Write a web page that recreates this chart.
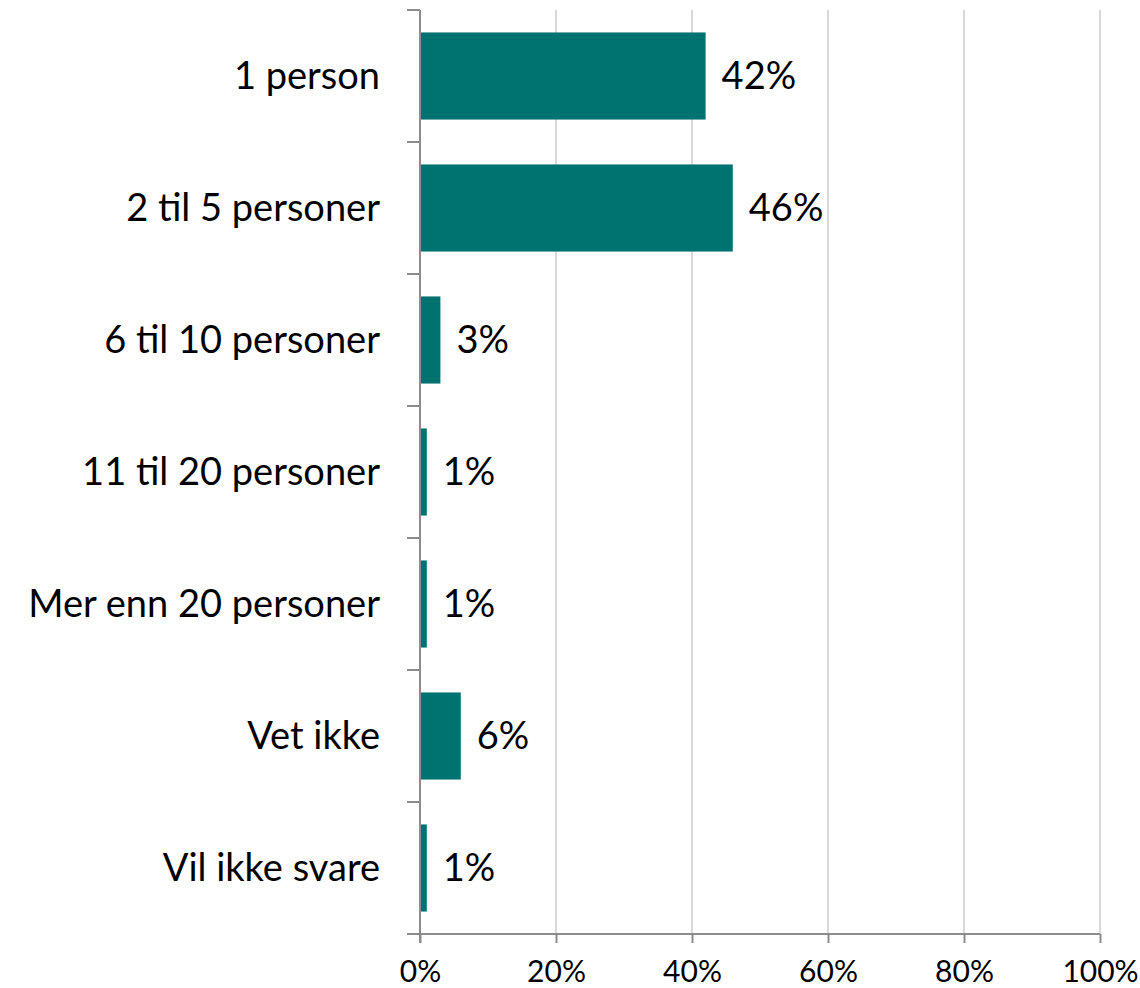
<!DOCTYPE html>
<html>
<head>
<meta charset="utf-8">
<script src="https://cdn.jsdelivr.net/npm/d3@7"></script>
<style>
  body { margin: 0; background: #fff; }
  text { font-family: Lato, "Open Sans", sans-serif; fill: #000; }
</style>
</head>
<body>
<div id="chart"></div>
<script>
// data
let categories = [
  "1 person",
  "2 til 5 personer",
  "6 til 10 personer",
  "11 til 20 personer",
  "Mer enn 20 personer",
  "Vet ikke",
  "Vil ikke svare"
];
let values = [42, 46, 3, 1, 1, 6, 1];
let valueLabels = ["42%", "46%", "3%", "1%", "1%", "6%", "1%"];
let xTicks = [0, 20, 40, 60, 80, 100];

let width = 1140;
let height = 988;
let padding = { top: 10, right: 40, bottom: 54, left: 420 };

// scales
let xScale = d3
  .scaleLinear()
  .domain([0, 100])
  .range([padding.left, width - padding.right]);
let yScale = d3
  .scaleBand()
  .domain(categories)
  .range([padding.top, height - padding.bottom])
  .paddingInner(0.34)
  .paddingOuter(0.17);

let svg = d3
  .select("#chart")
  .append("svg")
  .attr("width", width)
  .attr("height", height);

// gridlines
svg
  .append("g")
  .selectAll("line")
  .data(xTicks.slice(1))
  .enter()
  .append("line")
  .attr("x1", d => xScale(d))
  .attr("x2", d => xScale(d))
  .attr("y1", padding.top)
  .attr("y2", height - padding.bottom)
  .attr("stroke", "#d9d9d9")
  .attr("stroke-width", 2);

// bars
svg
  .append("g")
  .selectAll("rect")
  .data(values)
  .enter()
  .append("rect")
  .attr("x", xScale(0))
  .attr("y", (d, i) => yScale(categories[i]))
  .attr("width", d => xScale(d) - xScale(0))
  .attr("height", yScale.bandwidth())
  .attr("fill", "#007370");

// value labels
svg
  .append("g")
  .selectAll("text")
  .data(values)
  .enter()
  .append("text")
  .attr("x", d => xScale(d) + 16)
  .attr("y", (d, i) => yScale(categories[i]) + yScale.bandwidth() / 2)
  .attr("dy", "0.35em")
  .style("font-size", "38px")
  .text((d, i) => valueLabels[i]);

// x axis
let xAxis = d3
  .axisBottom(xScale)
  .tickValues(xTicks)
  .tickFormat(d => d + "%")
  .tickSize(9)
  .tickPadding(18);
let gx = svg
  .append("g")
  .attr("transform", `translate(0, ${height - padding.bottom})`)
  .call(xAxis);
gx.select(".domain").attr("stroke", "#8c8c8c").attr("stroke-width", 2)
  .attr("d", `M${padding.left - 13},0H${width - padding.right}`);
gx.selectAll(".tick line").attr("stroke", "#8c8c8c").attr("stroke-width", 2);
gx.selectAll(".tick text").style("font-size", "30px").attr("fill", "#000");

// y axis
let yBoundaries = d3.range(categories.length + 1).map(i =>
  padding.top + i * (height - padding.bottom - padding.top) / categories.length);
let gy = svg.append("g");
gy.append("line")
  .attr("x1", padding.left)
  .attr("x2", padding.left)
  .attr("y1", padding.top)
  .attr("y2", height - padding.bottom + 9)
  .attr("stroke", "#8c8c8c")
  .attr("stroke-width", 2);
gy.selectAll(".ytick")
  .data(yBoundaries.slice(0, -1))
  .enter()
  .append("line")
  .attr("class", "ytick")
  .attr("x1", padding.left - 13)
  .attr("x2", padding.left)
  .attr("y1", d => d)
  .attr("y2", d => d)
  .attr("stroke", "#8c8c8c")
  .attr("stroke-width", 2);

// category labels
svg
  .append("g")
  .selectAll("text")
  .data(categories)
  .enter()
  .append("text")
  .attr("x", padding.left - 40)
  .attr("y", d => yScale(d) + yScale.bandwidth() / 2)
  .attr("dy", "0.35em")
  .attr("text-anchor", "end")
  .style("font-size", "38px")
  .text(d => d);
</script>
</body>
</html>
